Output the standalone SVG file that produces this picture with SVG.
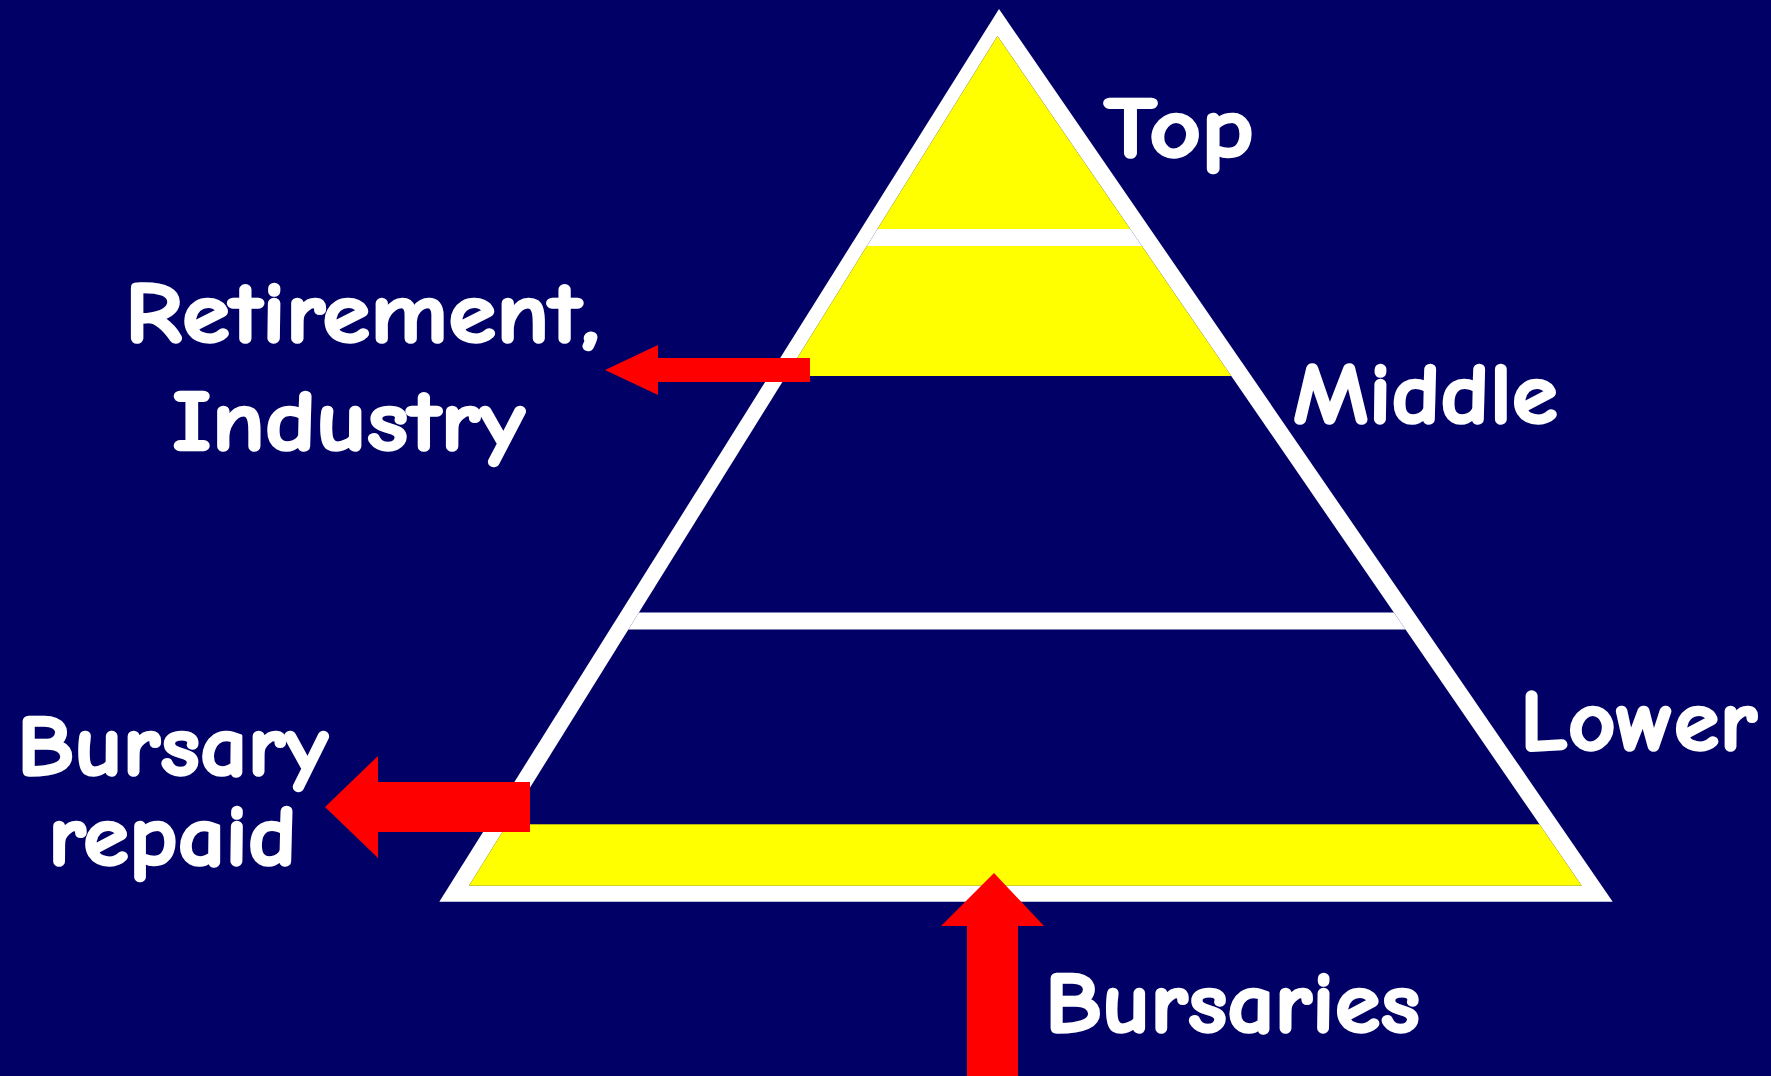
<svg xmlns="http://www.w3.org/2000/svg" width="1771" height="1076" viewBox="0 0 1771 1076">
<style>
.lbl{font-family:"Comic Sans MS","Comic Neue","Noto Sans","Liberation Sans",sans-serif;font-weight:bold;font-size:86px;fill:#ffffff;stroke:#ffffff;stroke-width:2.5;stroke-linejoin:round}
.arrow{fill:#ff0000}
.band{fill:#ffff00}
.div{fill:#ffffff}
</style>
<defs>
<clipPath id="inner"><polygon points="997.5,36 469,885.7 1581.7,885.7"/></clipPath>
</defs>
<rect x="0" y="0" width="1771" height="1076" fill="#000066"/>
<g id="pyramid">
<polygon points="999,9 439.3,901.7 1612.7,901.7" fill="#ffffff"/>
<polygon points="997.5,36 469,885.7 1581.7,885.7" fill="#000066"/>
<g clip-path="url(#inner)">
<rect id="top-band" class="band" x="400" y="20" width="1300" height="209"/>
<rect id="middle-band" class="band" x="400" y="246" width="1300" height="130"/>
<rect id="lower-band" class="band" x="400" y="824.3" width="1300" height="70"/>
<rect class="div" x="400" y="229" width="1300" height="17"/>
<rect class="div" x="400" y="612.5" width="1300" height="17"/>
</g>
</g>
<g id="level-labels">
<text id="lbl-top" class="lbl" x="1104" y="157" textLength="150" lengthAdjust="spacingAndGlyphs">Top</text>
<text id="lbl-middle" class="lbl" x="1293" y="423" textLength="265" lengthAdjust="spacingAndGlyphs">Middle</text>
<text id="lbl-lower" class="lbl" x="1520" y="750" textLength="237" lengthAdjust="spacingAndGlyphs">Lower</text>
</g>
<g id="flow-labels">
<text id="lbl-retirement" class="lbl" x="125" y="342" textLength="475" lengthAdjust="spacingAndGlyphs">Retirement,</text>
<text id="lbl-industry" class="lbl" x="172" y="450" textLength="353" lengthAdjust="spacingAndGlyphs">Industry</text>
<text id="lbl-bursary" class="lbl" x="17" y="775" textLength="311" lengthAdjust="spacingAndGlyphs">Bursary</text>
<text id="lbl-repaid" class="lbl" x="48" y="865" textLength="249" lengthAdjust="spacingAndGlyphs">repaid</text>
<text id="lbl-bursaries" class="lbl" x="1045" y="1032" textLength="375" lengthAdjust="spacingAndGlyphs">Bursaries</text>
</g>
<g id="connectors">
<polygon class="arrow" points="605,370 658,345 658,358 810,358 810,382 658,382 658,395"/>
<polygon class="arrow" points="325,807 378,756 378,782 530,782 530,832 378,832 378,858"/>
<polygon class="arrow" points="994,873 1044,926 1018,926 1018,1076 967,1076 967,926 941,926"/>
</g>
</svg>
